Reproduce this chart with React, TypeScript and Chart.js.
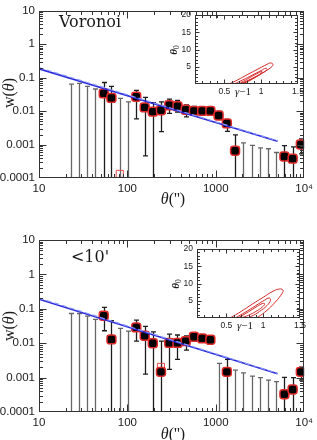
import React, { useEffect, useRef } from 'react';
import { Chart, registerables } from 'chart.js';
Chart.register(...registerables);

// ---------- data ----------
const THETA = [23, 28, 35, 43, 54, 66, 82, 102, 126, 157, 194, 240, 298, 369, 457, 566, 702, 869, 1077, 1335, 1654, 2049, 2539, 3145, 3896, 4827, 5980, 7408, 9178];

// Panel 1 (Voronoi)
const W1 = [null, null, null, null, 0.034, 0.025, null, null, 0.027, 0.013, 0.0097, 0.0107, 0.015, 0.014, 0.011, 0.0102, 0.0102, 0.0102, 0.0074, 0.0043, 0.00065, null, null, null, null, null, 0.00044, 0.00038, 0.001];
const UP1 = [0.064, 0.068, 0.055, 0.046, 0.072, 0.055, 0.024, 0.019, 0.042, 0.026, 0.018, 0.019, 0.023, 0.021, 0.0154, 0.014, 0.013, 0.013, 0.0099, 0.0054, 0.00195, 0.00112, 0.00095, 0.0008, 0.00075, 0.00058, 0.00093, 0.00085, 0.00149];
const LO1 = [null, null, null, null, null, null, null, null, 0.0059, 0.00046, null, 0.00245, 0.0086, 0.0093, 0.0067, 0.0079, 0.008, 0.008, 0.0057, 0.0025, null, null, null, null, null, null, null, null, 0.00053];
const OPEN1_THETA = [82];
const OPEN1_W = [0.000133];

// Panel 2 (<10')
const W2 = [null, null, null, null, 0.063, 0.0129, null, null, 0.0288, 0.0164, 0.01, 0.00147, 0.0102, 0.0102, 0.0115, 0.0154, 0.0138, 0.0126, null, 0.00147, null, null, null, null, null, null, 0.00033, 0.00045, 0.00147];
const UP2 = [0.073, 0.073, 0.061, 0.049, 0.11, 0.045, 0.027, 0.0224, 0.047, 0.031, 0.0214, 0.0115, 0.0184, 0.0173, 0.0164, 0.019, 0.017, 0.015, 0.0026, 0.0034, 0.00165, 0.00138, 0.0011, 0.001, 0.00085, 0.00076, 0.00102, 0.001, 0.002];
const LO2 = [null, null, null, null, 0.023, null, null, null, 0.0115, 0.00126, null, null, 0.00173, 0.0034, 0.0063, 0.0113, 0.011, 0.0105, null, null, null, null, null, null, null, null, null, null, 0.00085];
const OPEN2_THETA = [240];
const OPEN2_W = [0.00205];

// Power-law fits
const FIT_THETA = [10, 5000];
const FIT1 = [0.184, 0.00126];
const FIT1_DASH = [0.2, 0.0013];
const FIT2 = [0.19, 0.0013];
const FIT2_DASH = [0.205, 0.00133];

// Tick labels
const X_MAJOR = [10, 100, 1000, 10000];
const X_LABELS = ['10', '100', '1000', '10⁴'];
const Y_MAJOR = [0.0001, 0.001, 0.01, 0.1, 1, 10];
const Y_LABELS = ['0.0001', '0.001', '0.01', '0.1', '1', '10'];
const INSET_X_TICKS = [0.5, 1, 1.5];
const INSET_X_LABELS = ['0.5', '1', '1.5'];
const INSET_Y_TICKS = [5, 10, 15, 20];
const INSET_Y_LABELS = ['5', '10', '15', '20'];

// Inset contours (gamma-1, theta_0)
const C1_OUTER_G = [0.56, 0.68, 0.82, 0.97, 1.08, 1.13, 1.16, 1.12, 1.0, 0.88, 0.76, 0.66, 0.58, 0.56];
const C1_OUTER_T = [0.0, 1.2, 2.8, 4.5, 5.7, 6.1, 5.6, 4.6, 3.0, 1.4, 0.2, -0.4, -0.3, 0.0];
const C1_MID_G = [0.63, 0.75, 0.88, 1.0, 1.06, 1.08, 1.02, 0.92, 0.8, 0.7, 0.63];
const C1_MID_T = [0.0, 1.2, 2.6, 3.9, 4.55, 4.2, 3.2, 2.0, 0.8, 0.05, 0.0];
const C1_IN_G = [0.72, 0.8, 0.9, 0.98, 1.01, 1.0, 0.92, 0.82, 0.74, 0.72];
const C1_IN_T = [0.4, 1.3, 2.5, 3.4, 3.6, 3.1, 2.1, 1.0, 0.3, 0.4];

const C2_OUTER_G = [0.55, 0.7, 0.85, 1.0, 1.12, 1.22, 1.27, 1.24, 1.15, 1.05, 0.93, 0.85, 0.65, 0.55];
const C2_OUTER_T = [0.0, 1.9, 4.0, 6.0, 7.6, 8.4, 8.0, 6.6, 4.3, 2.2, 0.3, -0.5, -0.6, 0.0];
const C2_MID_G = [0.62, 0.75, 0.9, 1.02, 1.08, 1.1, 1.05, 0.95, 0.83, 0.72, 0.62];
const C2_MID_T = [0.0, 1.6, 3.6, 5.2, 5.8, 5.2, 3.6, 1.9, 0.4, -0.3, 0.0];
const C2_IN_G = [0.68, 0.8, 0.92, 0.99, 1.02, 0.99, 0.9, 0.8, 0.7, 0.68];
const C2_IN_T = [0.3, 1.8, 3.4, 4.2, 4.1, 3.2, 1.9, 0.8, 0.1, 0.3];

// ---------- styling ----------
const SANS = '"Liberation Sans", Arial, sans-serif';
const SERIF = '"Liberation Serif", "DejaVu Serif", serif';
const INK = '#1a1a1a';

type Seg = { t: string; font: string; dy?: number };

function drawRich(ctx: CanvasRenderingContext2D, segs: Seg[], x: number, y: number, rotate = 0) {
  ctx.save();
  ctx.translate(x, y);
  if (rotate) ctx.rotate(rotate);
  let total = 0;
  for (const s of segs) { ctx.font = s.font; total += ctx.measureText(s.t).width; }
  let cx = -total / 2;
  ctx.textBaseline = 'middle';
  ctx.textAlign = 'left';
  ctx.fillStyle = INK;
  for (const s of segs) {
    ctx.font = s.font;
    ctx.fillText(s.t, cx, s.dy || 0);
    cx += ctx.measureText(s.t).width;
  }
  ctx.restore();
}

const richTextPlugin = {
  id: 'richText',
  afterDraw(chart: any, _a: any, opts: any) {
    const ctx = chart.ctx;
    for (const it of opts.items || []) drawRich(ctx, it.segs, it.x, it.y, it.rotate || 0);
  },
};

const errBarPlugin = {
  id: 'errBars',
  beforeDatasetsDraw(chart: any, _a: any, opts: any) {
    if (!opts.xs) return;
    const { ctx, chartArea: a } = chart;
    const xs = chart.scales.x, ys = chart.scales.y;
    ctx.save();
    ctx.beginPath();
    ctx.rect(a.left, a.top, a.right - a.left, a.bottom - a.top);
    ctx.clip();
    ctx.lineWidth = 1.3;
    opts.xs.forEach((t: number, i: number) => {
      const px = Math.round(xs.getPixelForValue(t)) + 0.5;
      const top = ys.getPixelForValue(opts.up[i]);
      const bot = opts.lo[i] == null ? a.bottom : ys.getPixelForValue(opts.lo[i]);
      ctx.strokeStyle = opts.w[i] == null ? '#666' : '#1c1c1c';
      ctx.beginPath();
      ctx.moveTo(px, top); ctx.lineTo(px, bot);
      ctx.moveTo(px - 2.5, top); ctx.lineTo(px + 2.5, top);
      if (opts.lo[i] != null) { ctx.moveTo(px - 2.5, bot); ctx.lineTo(px + 2.5, bot); }
      ctx.stroke();
    });
    ctx.restore();
  },
};

const framePlugin = {
  id: 'frameTicks',
  afterDatasetsDraw(chart: any, _a: any, opts: any) {
    const { ctx, chartArea: a } = chart;
    const xs = chart.scales.x, ys = chart.scales.y;
    const L = Math.round(a.left) + 0.5, R = Math.round(a.right) - 0.5;
    const T = Math.round(a.top) + 0.5, B = Math.round(a.bottom) - 0.5;
    ctx.save();
    ctx.strokeStyle = '#333';
    ctx.lineWidth = 1;
    ctx.strokeRect(L, T, R - L, B - T);
    ctx.beginPath();
    for (const [v, len] of opts.xTicks) {
      const p = Math.round(xs.getPixelForValue(v)) + 0.5;
      if (p < L - 0.6 || p > R + 0.6) continue;
      ctx.moveTo(p, B); ctx.lineTo(p, B - len);
      ctx.moveTo(p, T); ctx.lineTo(p, T + len);
    }
    for (const [v, len] of opts.yTicks) {
      const p = Math.round(ys.getPixelForValue(v)) + 0.5;
      if (p < T - 0.6 || p > B + 0.6) continue;
      ctx.moveTo(L, p); ctx.lineTo(L + len, p);
      ctx.moveTo(R, p); ctx.lineTo(R - len, p);
    }
    ctx.stroke();
    ctx.restore();
  },
};

function logTicks(majors: number[], maj: number, min: number) {
  const out: [number, number][] = [];
  majors.forEach((m, i) => {
    out.push([m, maj]);
    if (i < majors.length - 1) for (let k = 2; k <= 9; k++) out.push([m * k, min]);
  });
  return out;
}

function linTicks(lo: number, hi: number, step: number, every: number, maj: number, min: number) {
  const out: [number, number][] = [];
  const n = Math.round((hi - lo) / step);
  for (let i = 0; i <= n; i++) {
    const v = lo + i * step;
    const isMaj = Math.abs(v / every - Math.round(v / every)) < 1e-6;
    out.push([v, isMaj ? maj : min]);
  }
  return out;
}

function pts(xs: number[], ys: (number | null)[]) {
  const out: { x: number; y: number }[] = [];
  xs.forEach((x, i) => { if (ys[i] != null) out.push({ x, y: ys[i] as number }); });
  return out;
}

function mainConfig(p: any) {
  const tickFont = { family: SANS, size: 11.5 };
  return {
    type: 'scatter',
    data: {
      datasets: [
        { type: 'line', data: pts(FIT_THETA, p.fitDash), borderColor: '#8a96ff', borderWidth: 1.2, borderDash: [5, 3], pointRadius: 0, fill: false },
        { type: 'line', data: pts(FIT_THETA, p.fit), borderColor: '#2a2ad8', borderWidth: 1.6, pointRadius: 0, fill: false },
        { data: pts(THETA, p.w), pointStyle: 'rectRounded', pointRadius: 5.2, backgroundColor: '#000', borderColor: '#e02a2a', borderWidth: 1.5 },
        { data: pts(p.openX, p.openY), pointStyle: 'rect', pointRadius: 5, backgroundColor: 'rgba(255,255,255,0)', borderColor: '#e84a4a', borderWidth: 1 },
      ],
    },
    options: {
      animation: false,
      responsive: false,
      events: [],
      layout: { padding: { top: p.topPad, right: 10, left: 0, bottom: 0 } },
      plugins: {
        legend: { display: false },
        tooltip: { enabled: false },
        errBars: { xs: THETA, up: p.up, lo: p.lo, w: p.w },
        frameTicks: { xTicks: logTicks(X_MAJOR, 7, 3.5), yTicks: logTicks(Y_MAJOR, 7, 3.5) },
        richText: { items: p.texts },
      },
      scales: {
        x: {
          type: 'logarithmic', min: 10, max: 10000,
          afterBuildTicks: (s: any) => { s.ticks = X_MAJOR.map((v) => ({ value: v, major: true })); },
          afterFit: (s: any) => { s.height = p.xHeight; },
          ticks: { callback: (_v: any, i: number) => X_LABELS[i], autoSkip: false, maxRotation: 0, padding: 4, font: tickFont, color: INK },
          grid: { display: false, drawTicks: false },
          border: { display: false },
        },
        y: {
          type: 'logarithmic', min: 0.0001, max: 10,
          afterBuildTicks: (s: any) => { s.ticks = Y_MAJOR.map((v) => ({ value: v, major: true })); },
          afterFit: (s: any) => { s.width = 39; },
          ticks: { callback: (_v: any, i: number) => Y_LABELS[i], autoSkip: false, padding: 4, font: tickFont, color: INK },
          grid: { display: false, drawTicks: false },
          border: { display: false },
        },
      },
    },
    plugins: [errBarPlugin, framePlugin, richTextPlugin],
  };
}

function contour(g: number[], t: number[]) {
  return { data: g.map((x, i) => ({ x, y: t[i] })), showLine: true, tension: 0.45, borderColor: '#d42828', borderWidth: 1, pointRadius: 0, fill: false };
}

function insetConfig(p: any) {
  const tickFont = { family: SANS, size: 8.5 };
  return {
    type: 'scatter',
    data: { datasets: p.contours },
    options: {
      animation: false,
      responsive: false,
      events: [],
      layout: { padding: { top: p.top, right: p.right, left: 0, bottom: 0 } },
      plugins: {
        legend: { display: false },
        tooltip: { enabled: false },
        frameTicks: { xTicks: linTicks(0.1, 1.5, 0.1, 0.5, 4, 2.5), yTicks: linTicks(0, 20, 1, 5, 4, 2.5) },
        richText: {
          items: [
            { segs: [{ t: 'γ', font: `italic 11px ${SERIF}` }, { t: '−1', font: `11px ${SERIF}` }], x: p.gx, y: p.gy },
            { segs: [{ t: 'θ', font: `italic bold 11px ${SERIF}` }, { t: '0', font: `8px ${SERIF}`, dy: 3 }], x: p.tx, y: p.ty, rotate: -Math.PI / 2 },
          ],
        },
      },
      scales: {
        x: {
          type: 'linear', min: 0.1, max: 1.5,
          afterBuildTicks: (s: any) => { s.ticks = INSET_X_TICKS.map((v) => ({ value: v })); },
          afterFit: (s: any) => { s.height = p.xHeight; },
          ticks: { callback: (_v: any, i: number) => INSET_X_LABELS[i], autoSkip: false, maxRotation: 0, padding: 3, font: tickFont, color: INK },
          grid: { display: false, drawTicks: false },
          border: { display: false },
        },
        y: {
          type: 'linear', min: 0, max: 20,
          afterBuildTicks: (s: any) => { s.ticks = INSET_Y_TICKS.map((v) => ({ value: v })); },
          afterFit: (s: any) => { s.width = p.yWidth; },
          ticks: { callback: (_v: any, i: number) => INSET_Y_LABELS[i], autoSkip: false, padding: 4, font: tickFont, color: INK },
          grid: { display: false, drawTicks: false },
          border: { display: false },
        },
      },
    },
    plugins: [framePlugin, richTextPlugin],
  };
}

function axisTitles(centerY: number, xTitleY: number, label: string, labelY: number) {
  return [
    { segs: [{ t: 'w(', font: `16px ${SERIF}` }, { t: 'θ', font: `italic 16px ${SERIF}` }, { t: ')', font: `16px ${SERIF}` }], x: 10, y: centerY, rotate: -Math.PI / 2 },
    { segs: [{ t: 'θ', font: `italic 16px ${SERIF}` }, { t: "('')", font: `16px ${SERIF}` }], x: 173, y: xTitleY },
    { segs: [{ t: label, font: `16px "DejaVu Serif", serif` }], x: 90, y: labelY },
  ];
}

export default function App() {
  const c1 = useRef<HTMLCanvasElement>(null);
  const c2 = useRef<HTMLCanvasElement>(null);
  const i1 = useRef<HTMLCanvasElement>(null);
  const i2 = useRef<HTMLCanvasElement>(null);

  useEffect(() => {
    const charts: Chart[] = [];
    charts.push(new Chart(c1.current as any, mainConfig({
      w: W1, up: UP1, lo: LO1, openX: OPEN1_THETA, openY: OPEN1_W, fit: FIT1, fitDash: FIT1_DASH,
      topPad: 5, xHeight: 42, texts: axisTitles(93, 200, 'Voronoi', 23),
    }) as any));
    charts.push(new Chart(c2.current as any, mainConfig({
      w: W2, up: UP2, lo: LO2, openX: OPEN2_THETA, openY: OPEN2_W, fit: FIT2, fitDash: FIT2_DASH,
      topPad: 20, xHeight: 38, texts: axisTitles(106, 215, '<10\'', 38),
    }) as any));
    charts.push(new Chart(i1.current as any, insetConfig({
      contours: [contour(C1_OUTER_G, C1_OUTER_T), contour(C1_MID_G, C1_MID_T), contour(C1_IN_G, C1_IN_T)],
      top: 15, right: 19, xHeight: 16, yWidth: 35, gx: 83, gy: 92, tx: 14, ty: 50,
    }) as any));
    charts.push(new Chart(i2.current as any, insetConfig({
      contours: [contour(C2_OUTER_G, C2_OUTER_T), contour(C2_MID_G, C2_MID_T), contour(C2_IN_G, C2_IN_T)],
      top: 15, right: 17, xHeight: 16, yWidth: 37, gx: 85, gy: 92, tx: 16, ty: 50,
    }) as any));
    return () => charts.forEach((c) => c.destroy());
  }, []);

  return (
    <div style={{ position: 'absolute', left: 0, top: 0, width: 317, height: 440, overflow: 'hidden', background: '#fff' }}>
      <canvas ref={c1} width={317} height={220} style={{ position: 'absolute', left: 0, top: 0, width: 317, height: 220 }} />
      <canvas ref={c2} width={317} height={230} style={{ position: 'absolute', left: 0, top: 220, width: 317, height: 230 }} />
      <canvas ref={i1} width={157} height={100} style={{ position: 'absolute', left: 160, top: 0, width: 157, height: 100 }} />
      <canvas ref={i2} width={157} height={100} style={{ position: 'absolute', left: 160, top: 234, width: 157, height: 100 }} />
    </div>
  );
}
